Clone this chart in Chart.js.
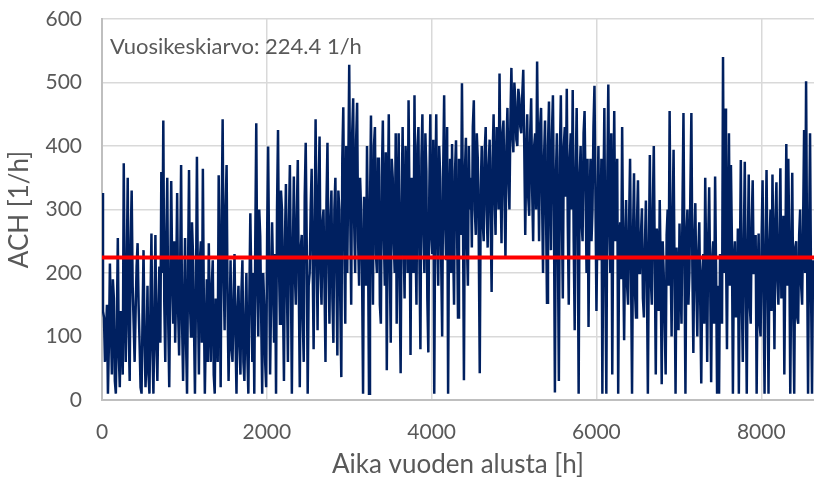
<!DOCTYPE html>
<html>
<head>
<meta charset="utf-8">
<script src="https://cdn.jsdelivr.net/npm/chart.js@4.4.1/dist/chart.umd.min.js"></script>
<style>
  html, body { margin: 0; padding: 0; background: #fff; }
  #wrap { width: 814px; height: 484px; }
</style>
</head>
<body>
<div id="wrap"><canvas id="ach-chart" width="814" height="484"></canvas></div>
<script>
// Hours between samples (sample i is at hour i * STEP_H)
const STEP_H = 12;

// ACH values, two per day
const achValues = [
  326,140, 130,60, 100,150, 10,90, 215,120, 40,190, 160,30, 10,120, 255,70, 20,140, 110,40, 373,160,
  60,200, 350,110, 30,250, 330,180, 120,60, 140,210, 247,150, 90,20, 10,130, 236,100, 20,70, 180,40,
  10,150, 262,80, 10,120, 260,90, 30,140, 210,90, 359,200, 440,150, 60,250, 350,120, 20,180, 345,200,
  120,250, 90,180, 326,140, 70,200, 370,120, 30,150, 255,90, 10,200, 362,150, 100,280, 230,120, 10,160,
  383,170, 40,220, 250,90, 364,150, 10,110, 190,60, 247,130, 60,180, 220,40, 10,160, 140,60, 354,180,
  20,280, 442,200, 110,300, 370,150, 30,120, 220,80, 60,160, 230,100, 10,140, 180,90, 40,170, 220,60,
  30,130, 200,70, 10,160, 294,180, 60,200, 10,250, 436,180, 100,300, 258,130, 10,200, 150,60, 20,260,
  399,220, 40,160, 280,200, 90,230, 10,300, 425,210, 120,330, 300,160, 30,250, 340,180, 60,280, 370,200,
  10,230, 352,200, 150,290, 378,180, 20,240, 260,130, 60,320, 405,250, 10,180, 200,300, 364,220, 80,260,
  442,250, 110,330, 415,200, 150,280, 300,180, 60,310, 405,230, 120,280, 330,160, 90,300, 350,210, 70,330,
  300,150, 36,380, 461,250, 120,400, 200,350, 528,300, 150,420, 475,280, 200,410, 468,250, 180,350, 300,200,
  10,320, 280,180, 400,250, 10,300, 448,260, 150,400, 430,230, 200,380, 380,150, 120,350, 440,260, 180,390,
  47,300, 450,220, 90,380, 350,250, 200,420, 120,300, 420,180, 42,310, 430,250, 160,400, 340,200, 472,300,
  71,350, 300,200, 480,260, 150,400, 430,220, 80,380, 450,270, 200,420, 360,160, 75,330, 450,260, 230,410,
  10,320, 450,260, 180,400, 350,220, 100,360, 480,280, 220,430, 10,300, 380,200, 403,250, 150,360, 409,280,
  130,380, 350,260, 499,300, 31,360, 413,250, 180,400, 300,350, 240,430, 472,300, 260,420, 380,250, 42,330,
  400,280, 250,390, 430,300, 240,370, 410,290, 170,380, 450,320, 260,430, 380,300, 514,350, 247,420, 440,320,
  222,400, 460,350, 300,440, 523,420, 390,500, 470,410, 400,490, 475,430, 420,480, 520,400, 260,380, 450,320,
  290,420, 475,330, 250,400, 420,300, 533,380, 250,430, 460,320, 200,380, 440,300, 153,400, 470,320, 236,420,
  480,300, 12,350, 420,250, 30,380, 480,300, 160,400, 430,320, 490,280, 150,380, 420,300, 488,250, 110,360,
  460,300, 10,350, 400,280, 250,420, 455,330, 200,380, 115,300, 380,250, 300,430, 495,320, 140,280, 400,220,
  250,380, 10,300, 460,200, 10,350, 497,280, 200,420, 40,300, 455,250, 300,380, 10,250, 280,190, 430,230,
  94,250, 315,180, 150,280, 380,200, 10,260, 357,170, 130,280, 346,200, 200,260, 302,160, 130,240, 314,200,
  10,230, 386,190, 150,300, 400,220, 40,270, 250,140, 315,200, 25,250, 200,120, 40,260, 300,180, 455,230,
  100,280, 394,200, 10,240, 200,110, 278,190, 120,300, 452,220, 10,260, 300,150, 200,330, 452,210, 74,250,
  310,180, 100,230, 280,150, 26,200, 230,120, 350,210, 60,250, 335,190, 28,220, 250,120, 352,200, 10,180,
  10,230, 200,120, 540,200, 459,240, 80,300, 420,180, 370,250, 10,220, 250,130, 150,270, 10,200, 378,160,
  60,240, 375,180, 10,230, 355,150, 120,280, 346,200, 200,260, 10,190, 262,120, 100,250, 346,170, 10,230,
  362,200, 10,240, 300,140, 355,230, 80,280, 343,190, 150,250, 365,160, 200,290, 40,220, 403,180, 380,250,
  10,200, 358,150, 10,240, 250,130, 120,260, 300,180, 150,280, 425,200, 502,230, 10,250, 420,180, 10,220,
  200
];

// Annual mean line
const meanValue = 224.4;
const meanLabel = 'Vuosikeskiarvo: 224.4 1/h';

// Axis settings
const xMax = 8640;
const xTicks = [0, 2000, 4000, 6000, 8000];
const yTicks = [0, 100, 200, 300, 400, 500, 600];

const xTitle = 'Aika vuoden alusta [h]';
const yTitle = 'ACH [1/h]';

const FONT = 'Lato, "Open Sans", sans-serif';
const TEXT_COLOR = '#595959';

const achPoints = achValues.map((v, i) => ({ x: i * STEP_H, y: v }));
const meanPoints = [{ x: 0, y: meanValue }, { x: xMax, y: meanValue }];

// Draws the mean label in the top-left corner of the plot
const meanLabelPlugin = {
  id: 'meanLabel',
  afterDraw(chart) {
    const { ctx, chartArea } = chart;
    ctx.save();
    ctx.font = '22px ' + FONT;
    ctx.fillStyle = TEXT_COLOR;
    ctx.textBaseline = 'alphabetic';
    ctx.fillText(meanLabel, chartArea.left + 8, chartArea.top + 35);
    ctx.restore();
  }
};

const ctx = document.getElementById('ach-chart').getContext('2d');
new Chart(ctx, {
  type: 'line',
  data: {
    datasets: [
      {
        label: 'Keskiarvo',
        data: meanPoints,
        borderColor: '#FF0000',
        borderWidth: 4,
        pointRadius: 0,
        fill: false
      },
      {
        label: 'ACH',
        data: achPoints,
        borderColor: '#002060',
        borderWidth: 2.5,
        pointRadius: 0,
        tension: 0,
        fill: false
      }
    ]
  },
  options: {
    responsive: false,
    animation: false,
    devicePixelRatio: 1,
    layout: { padding: { top: 19, right: 0, left: 0, bottom: 0 } },
    plugins: {
      legend: { display: false },
      tooltip: { enabled: false }
    },
    scales: {
      x: {
        type: 'linear',
        min: 0,
        max: xMax,
        afterBuildTicks(scale) {
          scale.ticks = xTicks.map(v => ({ value: v }));
        },
        afterFit(scale) {
          scale.height = 84;
          scale.paddingRight = 0;
        },
        grid: {
          color: '#d9d9d9',
          lineWidth: 1.5,
          drawTicks: false
        },
        border: { color: '#bfbfbf', width: 2 },
        ticks: {
          color: TEXT_COLOR,
          font: { family: FONT, size: 21 },
          padding: 20,
          maxRotation: 0,
          callback: v => String(v)
        },
        title: {
          display: true,
          text: xTitle,
          color: TEXT_COLOR,
          font: { family: FONT, size: 26 },
          padding: { top: 6 }
        }
      },
      y: {
        min: 0,
        max: 600,
        afterBuildTicks(scale) {
          scale.ticks = yTicks.map(v => ({ value: v }));
        },
        afterFit(scale) {
          // keep the tick padding from pushing the plot top down
          scale.width = 102;
          scale.paddingTop = 0;
          scale.paddingBottom = 0;
        },
        grid: {
          color: '#d9d9d9',
          lineWidth: 1.5,
          drawTicks: false
        },
        border: { color: '#bfbfbf', width: 2 },
        ticks: {
          color: TEXT_COLOR,
          font: { family: FONT, size: 21 },
          padding: 20,
          callback: v => String(v)
        },
        title: {
          display: true,
          text: yTitle,
          color: TEXT_COLOR,
          font: { family: FONT, size: 26 },
          padding: { bottom: 2 }
        }
      }
    }
  },
  plugins: [meanLabelPlugin]
});
</script>
</body>
</html>
